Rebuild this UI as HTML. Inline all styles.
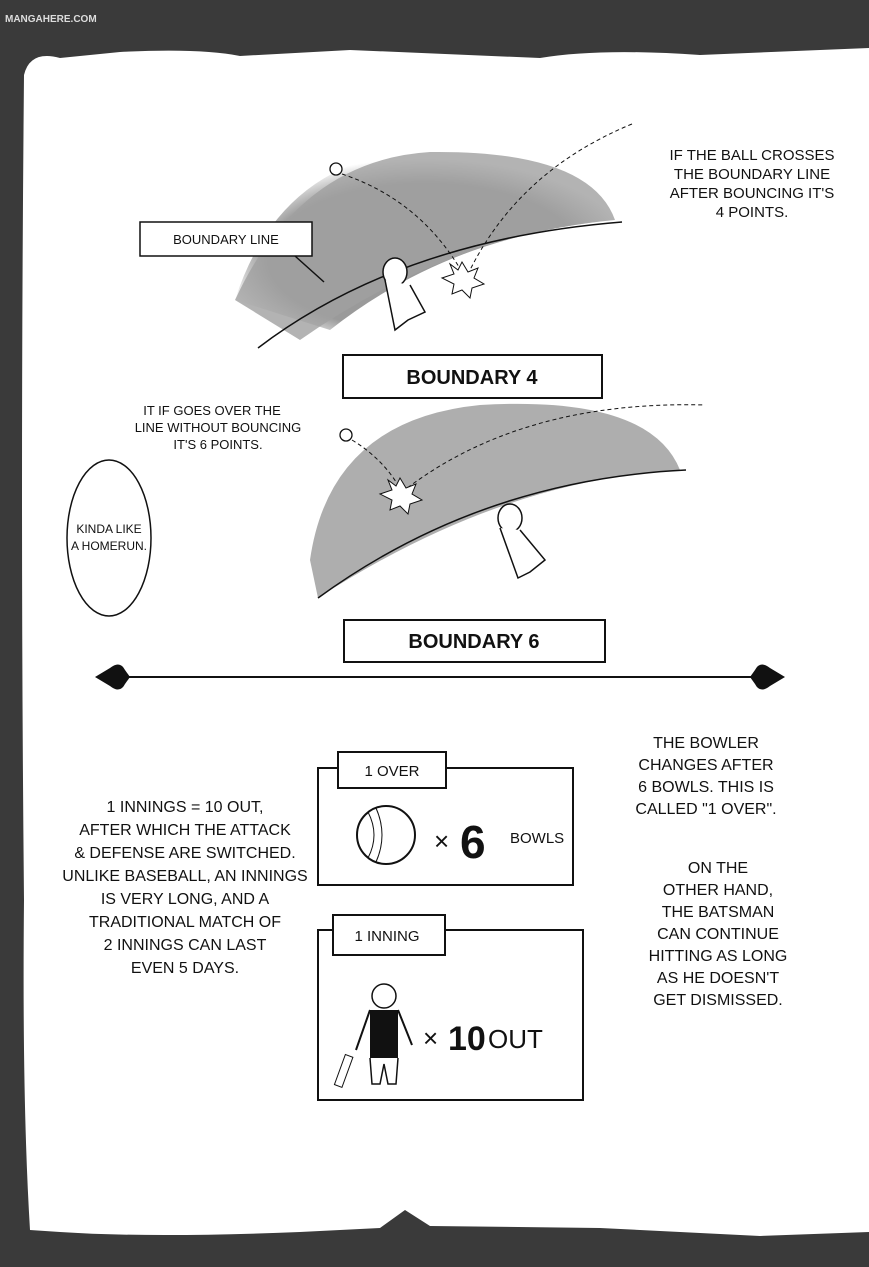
<!DOCTYPE html>
<html><head><meta charset="utf-8"><style>
html,body{margin:0;padding:0;background:#fff}
svg{display:block}
text{font-family:"Liberation Sans",sans-serif;fill:#111}
</style></head><body>
<svg width="869" height="1267" viewBox="0 0 869 1267" xmlns="http://www.w3.org/2000/svg">
<defs>
<radialGradient id="g1" cx="0.5" cy="0.6" r="0.55"><stop offset="0.75" stop-color="#9a9a9a"/><stop offset="1" stop-color="#9a9a9a" stop-opacity="0"/></radialGradient>
</defs>
<rect width="869" height="1267" fill="#3a3a3a"/>
<path d="M24 75 Q30 50 60 58 L120 52 Q200 48 240 56 L350 50 L540 58 Q600 48 700 55 L869 48 L869 1232 L760 1236 L600 1228 L430 1226 L405 1210 L380 1228 L300 1232 Q150 1238 60 1232 L30 1230 Q22 1100 24 900 Q20 500 24 75 Z" fill="#fff"/>
<text x="5" y="22" font-size="10" font-weight="bold" fill="#ccc" style="fill:#ddd">MANGAHERE.COM</text>
<!-- field 1 -->
<path d="M235 300 Q280 160 420 150 Q580 145 615 220 Q450 235 330 330 Z" fill="url(#g1)"/>
<path d="M235 300 Q300 160 430 152 Q590 150 615 220 Q450 235 300 340 Z" fill="#a0a0a0" opacity="0.8"/>
<path d="M258 348 Q400 240 622 222" fill="none" stroke="#111" stroke-width="1.5"/>
<circle cx="336" cy="169" r="6" fill="#fff" stroke="#111" stroke-width="1.3"/>
<path d="M342 174 Q420 200 462 272" fill="none" stroke="#111" stroke-dasharray="4 3"/>
<path d="M632 124 Q520 170 470 270" fill="none" stroke="#111" stroke-dasharray="4 3"/>
<polygon points="462,262 468,272 478,268 474,278 484,284 472,288 470,298 462,290 452,294 454,284 442,278 454,274 450,264 458,270" fill="#fff" stroke="#111"/>
<ellipse cx="395" cy="272" rx="12" ry="14" fill="#fff" stroke="#111" stroke-width="1.5"/>
<path d="M385 280 L395 330 L408 320 L425 312 L410 285" fill="#fff" stroke="#111" stroke-width="1.5"/>
<rect x="140" y="222" width="172" height="34" fill="#fff" stroke="#111" stroke-width="1.5"/>
<text x="226" y="244" font-size="13" text-anchor="middle">BOUNDARY LINE</text>
<line x1="295" y1="256" x2="324" y2="282" stroke="#111" stroke-width="1.5"/>
<text font-size="15" text-anchor="middle"><tspan x="752" y="160">IF THE BALL CROSSES</tspan><tspan x="752" y="179">THE BOUNDARY LINE</tspan><tspan x="752" y="198">AFTER BOUNCING IT'S</tspan><tspan x="752" y="217">4 POINTS.</tspan></text>
<rect x="343" y="355" width="259" height="43" fill="#fff" stroke="#111" stroke-width="2"/>
<text x="472" y="384" font-size="20" font-weight="bold" text-anchor="middle">BOUNDARY 4</text>
<!-- field 2 -->
<path d="M310 560 Q330 420 480 405 Q650 395 680 470 Q500 480 318 598 Z" fill="#a0a0a0" opacity="0.85"/>
<path d="M318 598 Q480 480 686 470" fill="none" stroke="#111" stroke-width="1.5"/>
<circle cx="346" cy="435" r="6" fill="#fff" stroke="#111" stroke-width="1.3"/>
<path d="M352 440 Q385 460 402 492" fill="none" stroke="#111" stroke-dasharray="4 3"/>
<path d="M402 492 Q520 400 705 405" fill="none" stroke="#111" stroke-dasharray="4 3"/>
<polygon points="400,478 406,488 416,484 412,494 422,500 410,504 408,514 400,506 390,510 392,500 380,494 392,490 388,480 396,486" fill="#fff" stroke="#111"/>
<ellipse cx="510" cy="518" rx="12" ry="14" fill="#fff" stroke="#111" stroke-width="1.5"/>
<path d="M500 528 L518 578 L530 572 L545 560 L520 530" fill="#fff" stroke="#111" stroke-width="1.5"/>
<text font-size="13" text-anchor="middle"><tspan x="212" y="415">IT IF GOES OVER THE</tspan><tspan x="218" y="432">LINE WITHOUT BOUNCING</tspan><tspan x="218" y="449">IT'S 6 POINTS.</tspan></text>
<ellipse cx="109" cy="538" rx="42" ry="78" fill="#fff" stroke="#111" stroke-width="1.5"/>
<text font-size="12" text-anchor="middle"><tspan x="109" y="533">KINDA LIKE</tspan><tspan x="109" y="550">A HOMERUN.</tspan></text>
<rect x="344" y="620" width="261" height="42" fill="#fff" stroke="#111" stroke-width="2"/>
<text x="474" y="648" font-size="20" font-weight="bold" text-anchor="middle">BOUNDARY 6</text>
<!-- divider -->
<line x1="120" y1="677" x2="760" y2="677" stroke="#111" stroke-width="2"/>
<path d="M95 677 L110 668 Q120 660 125 670 L130 677 L125 684 Q120 694 110 686 Z" fill="#111"/>
<path d="M785 677 L770 668 Q760 660 755 670 L750 677 L755 684 Q760 694 770 686 Z" fill="#111"/>
<!-- right texts -->
<text font-size="16" text-anchor="middle"><tspan x="706" y="748">THE BOWLER</tspan><tspan x="706" y="770">CHANGES AFTER</tspan><tspan x="706" y="792">6 BOWLS. THIS IS</tspan><tspan x="706" y="814">CALLED "1 OVER".</tspan></text>
<text font-size="16" text-anchor="middle"><tspan x="718" y="873">ON THE</tspan><tspan x="718" y="895">OTHER HAND,</tspan><tspan x="718" y="917">THE BATSMAN</tspan><tspan x="718" y="939">CAN CONTINUE</tspan><tspan x="718" y="961">HITTING AS LONG</tspan><tspan x="718" y="983">AS HE DOESN'T</tspan><tspan x="718" y="1005">GET DISMISSED.</tspan></text>
<text font-size="16" text-anchor="middle"><tspan x="185" y="812">1 INNINGS = 10 OUT,</tspan><tspan x="185" y="835">AFTER WHICH THE ATTACK</tspan><tspan x="185" y="858">&amp; DEFENSE ARE SWITCHED.</tspan><tspan x="185" y="881">UNLIKE BASEBALL, AN INNINGS</tspan><tspan x="185" y="904">IS VERY LONG, AND A</tspan><tspan x="185" y="927">TRADITIONAL MATCH OF</tspan><tspan x="185" y="950">2 INNINGS CAN LAST</tspan><tspan x="185" y="973">EVEN 5 DAYS.</tspan></text>
<!-- over box -->
<rect x="318" y="768" width="255" height="117" fill="#fff" stroke="#111" stroke-width="2"/>
<rect x="338" y="752" width="108" height="36" fill="#fff" stroke="#111" stroke-width="2"/>
<text x="392" y="776" font-size="15" text-anchor="middle">1 OVER</text>
<circle cx="386" cy="835" r="29" fill="#fff" stroke="#111" stroke-width="2"/>
<path d="M368 812 Q380 835 368 858 M376 808 Q388 835 376 862" fill="none" stroke="#111"/>
<text x="434" y="850" font-size="26">×</text>
<text x="460" y="858" font-size="46" font-weight="bold">6</text>
<text x="510" y="843" font-size="15">BOWLS</text>
<!-- inning box -->
<rect x="318" y="930" width="265" height="170" fill="#fff" stroke="#111" stroke-width="2"/>
<rect x="333" y="915" width="112" height="40" fill="#fff" stroke="#111" stroke-width="2"/>
<text x="387" y="941" font-size="15" text-anchor="middle">1 INNING</text>
<circle cx="384" cy="996" r="12" fill="#fff" stroke="#111" stroke-width="1.5"/>
<path d="M370 1010 L398 1010 L398 1058 L370 1058 Z" fill="#111"/>
<path d="M370 1058 L372 1084 L380 1084 L384 1064 L388 1084 L396 1084 L398 1058" fill="#fff" stroke="#111" stroke-width="1.5"/>
<path d="M370 1010 L356 1050 M398 1010 L412 1045" stroke="#111" stroke-width="2"/>
<rect x="340" y="1055" width="8" height="32" fill="#fff" stroke="#111" transform="rotate(20 344 1070)"/>
<text x="423" y="1047" font-size="26">×</text>
<text x="448" y="1050" font-size="34" font-weight="bold">10</text>
<text x="488" y="1048" font-size="26">OUT</text>
</svg>
</body></html>
